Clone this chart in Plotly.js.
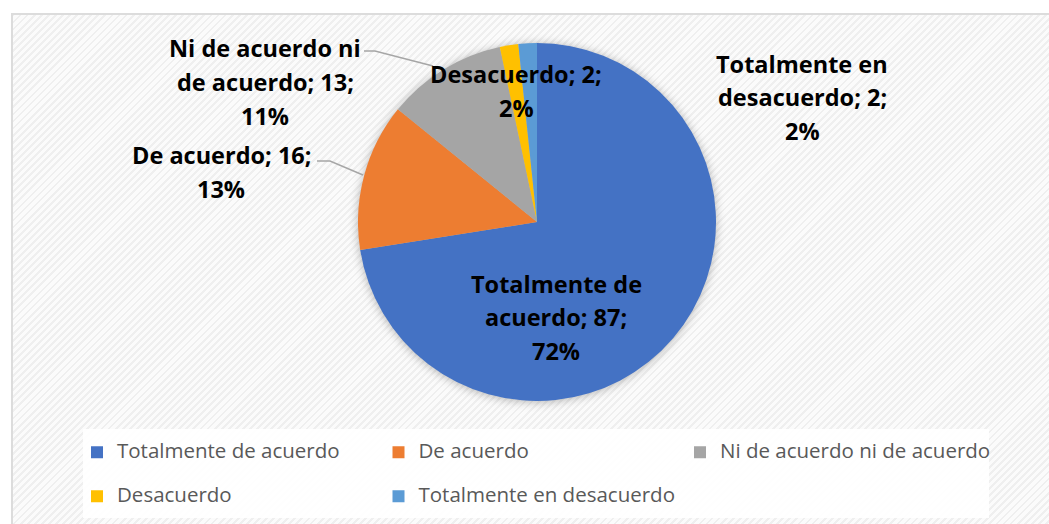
<!DOCTYPE html>
<html>
<head>
<meta charset="utf-8">
<script src="https://cdn.plot.ly/plotly-3.0.1.min.js"></script>
<style>
  html, body { margin: 0; padding: 0; background: #ffffff; overflow: hidden; }
  #wrap { position: relative; width: 1049px; height: 524px; overflow: hidden; }
  #frame {
    position: absolute; left: 11px; top: 13px; width: 1060px; height: 530px;
    border-left: 2px solid #dcdcdc; border-top: 2px solid #dcdcdc;
    background: repeating-linear-gradient(-45deg, #fbfbfb 0px, #fbfbfb 3px, #efefef 3px, #efefef 5px);
  }
  #chart { position: absolute; left: 0; top: 0; width: 1049px; height: 524px; }
  .pielayer { filter: drop-shadow(0px 1px 5px rgba(0,0,0,0.28)); }
  .legend .scrollbox { clip-path: none !important; }
</style>
</head>
<body>
<div id="wrap">
  <div id="frame"></div>
  <div id="chart"></div>
</div>
<script>
// ---- data ----
const categories = ["Totalmente de acuerdo", "De acuerdo", "Ni de acuerdo ni de acuerdo", "Desacuerdo", "Totalmente en desacuerdo"];
const values = [87, 16, 13, 2, 2];
const percents = [72, 13, 11, 2, 2];
const labelLines = [
  ["Totalmente de", "acuerdo;"],
  ["De acuerdo;"],
  ["Ni de acuerdo ni", "de acuerdo;"],
  ["Desacuerdo;"],
  ["Totalmente en", "desacuerdo;"]
];
const colors = ["#4472C4", "#ED7D31", "#A5A5A5", "#FFC000", "#5B9BD5"];

// ---- layout helpers ----
const W = 1049, H = 524;
const px = x => x / W;
const py = y => 1 - y / H;

const legendLabels = categories.map(c =>
  '<span style="font-size:20.5px">' + c + '</span><br>\u00A0');

const trace = {
  type: 'pie',
  labels: legendLabels,
  values: values,
  sort: false,
  direction: 'clockwise',
  rotation: 0,
  textinfo: 'none',
  hoverinfo: 'none',
  marker: { colors: colors, line: { width: 0 } },
  domain: { x: [px(358), px(716)], y: [py(401), py(43)] }
};

// data label lines built from arrays
function labelTextLines(i) {
  const lines = labelLines[i].slice();
  const last = lines.length - 1;
  lines[last] = lines[last] + ' ' + values[i] + ';';
  lines.push(percents[i] + '%');
  return lines;
}
const labelPos = [[556, 317], [221, 172], [265, 82], [516, 91], [802, 97]];
const LINE_H = 33.5;

const annotations = [];
categories.forEach((c, i) => {
  const lines = labelTextLines(i);
  const n = lines.length;
  lines.forEach((t, j) => {
    annotations.push({
      xref: 'paper', yref: 'paper',
      x: px(labelPos[i][0]),
      y: py(labelPos[i][1] + (j - (n - 1) / 2) * LINE_H),
      xanchor: 'center', yanchor: 'middle', align: 'center',
      showarrow: false,
      text: t,
      font: { family: 'Open Sans', size: 23.5, color: '#000000', weight: 'bold' }
    });
  });
});

function pathPx(pts) {
  return 'M' + pts.map(p => px(p[0]) + ',' + py(p[1])).join('L');
}

const shapes = [
  { type: 'rect', xref: 'paper', yref: 'paper', layer: 'below',
    x0: px(83), x1: px(989), y0: py(518), y1: py(429),
    fillcolor: 'rgba(255,255,255,0.92)', line: { width: 0 } },
  { type: 'path', xref: 'paper', yref: 'paper',
    path: pathPx([[364, 51], [375, 51], [433, 66]]),
    line: { color: '#a6a6a6', width: 1.5 } },
  { type: 'path', xref: 'paper', yref: 'paper',
    path: pathPx([[317, 161], [330, 161], [363, 175]]),
    line: { color: '#a6a6a6', width: 1.5 } }
];

const layout = {
  width: W, height: H,
  margin: { l: 0, r: 0, t: 0, b: 0, pad: 0, autoexpand: false },
  paper_bgcolor: 'rgba(0,0,0,0)',
  plot_bgcolor: 'rgba(0,0,0,0)',
  showlegend: true,
  legend: {
    orientation: 'h',
    x: px(77), xanchor: 'left',
    y: py(435.5), yanchor: 'top',
    valign: 'top',
    entrywidth: 256.5, entrywidthmode: 'pixels',
    traceorder: 'normal',
    bgcolor: 'rgba(0,0,0,0)',
    borderwidth: 0,
    font: { family: 'Open Sans', size: 15.77, color: '#595959' }
  },
  annotations: annotations,
  shapes: shapes
};

Plotly.newPlot('chart', [trace], layout, { staticPlot: true, displayModeBar: false });
</script>
</body>
</html>
